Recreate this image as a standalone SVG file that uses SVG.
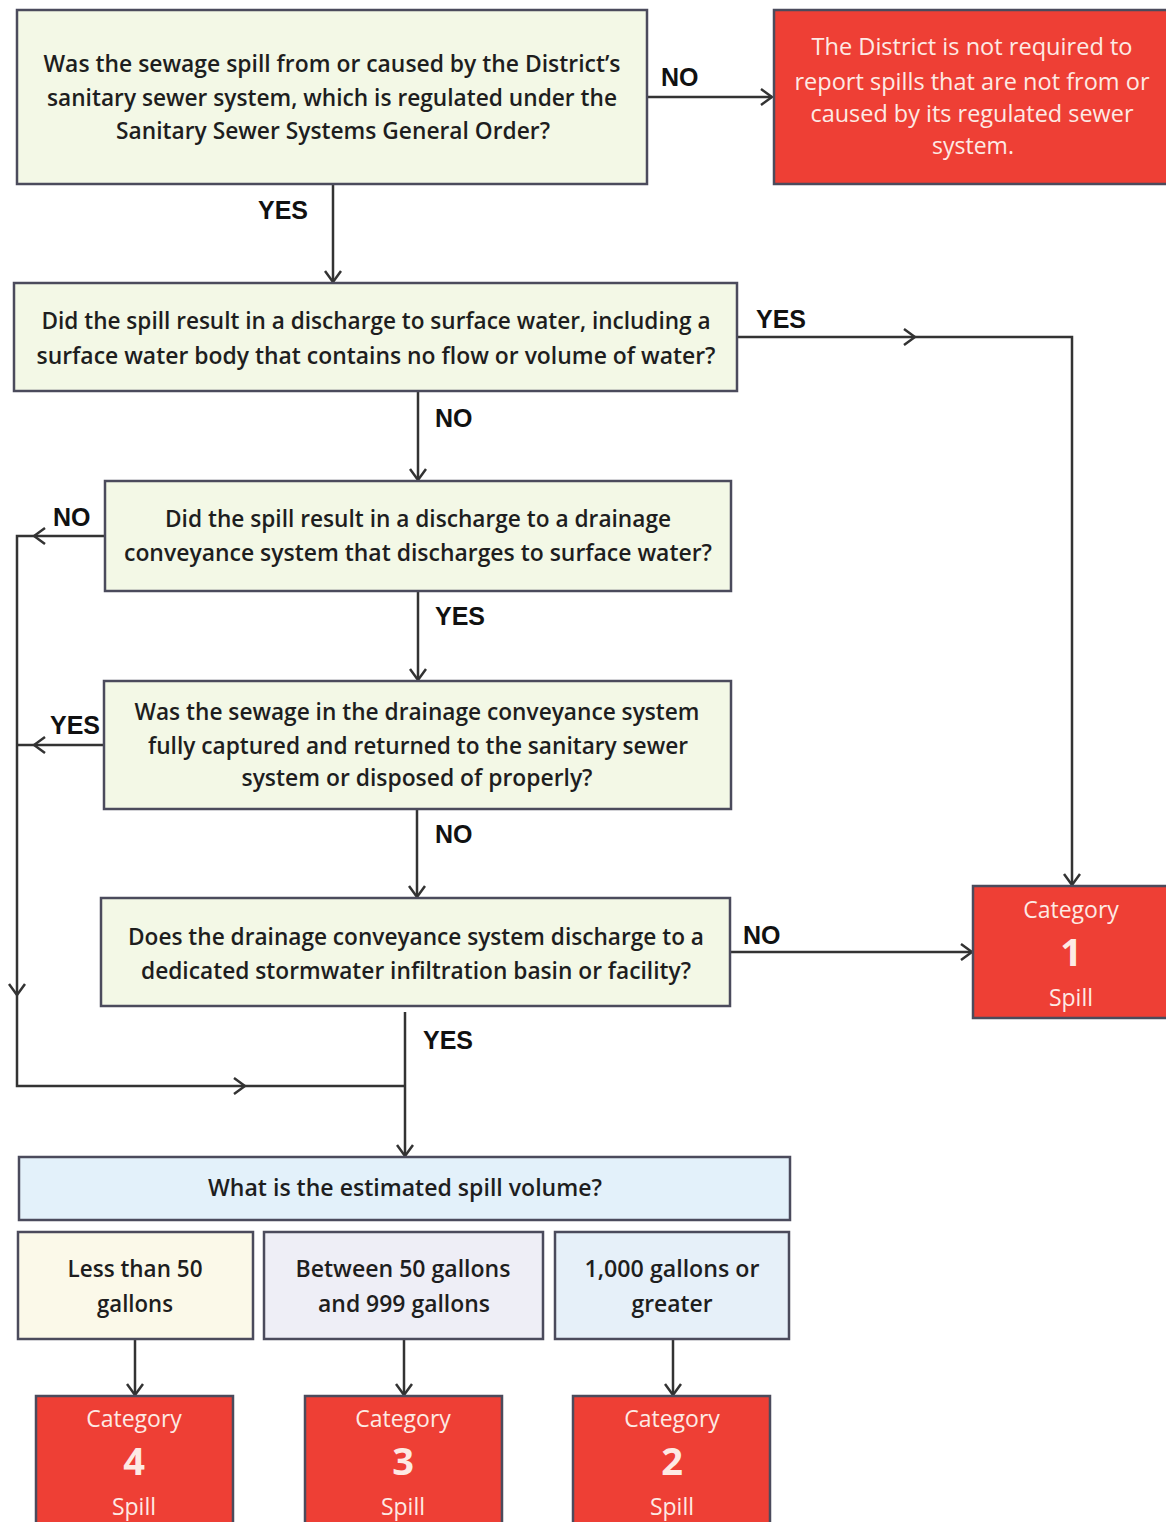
<svg xmlns="http://www.w3.org/2000/svg" width="1166" height="1522" viewBox="0 0 1166 1522">
<style>
.q{fill:#f3f8e6;stroke:#4b4b5c;stroke-width:2.5}
.r{fill:#ee3f35;stroke:#4b4b5c;stroke-width:2.5}
.t{font-family:"Open Sans","Liberation Sans",sans-serif;font-size:23px;font-weight:600;fill:#1e1e1e;text-anchor:middle}
.w{font-family:"Open Sans","Liberation Sans",sans-serif;font-size:23px;fill:#fdeae4;text-anchor:middle}
.n{font-family:"Open Sans","Liberation Sans",sans-serif;font-size:38px;font-weight:bold;fill:#fdeae4;text-anchor:middle}
.l{font-family:"Liberation Sans",Arial,sans-serif;font-size:25px;font-weight:bold;fill:#111}
.c{fill:none;stroke:#333;stroke-width:2.5}
</style>
<defs>
<marker id="a" viewBox="-1 -9 13 18" refX="11" refY="0" markerWidth="13" markerHeight="18" markerUnits="userSpaceOnUse" orient="auto">
<path d="M0,-8 L11,0 L0,8" fill="none" stroke="#333" stroke-width="2.5"/>
</marker>
</defs>
<g id="connectors">
<path class="c" d="M647,97 H772" marker-end="url(#a)"/>
<path class="c" d="M333,184 V282" marker-end="url(#a)"/>
<path class="c" d="M737,337 H915" marker-end="url(#a)"/>
<path class="c" d="M915,337 H1072 V885" marker-end="url(#a)"/>
<path class="c" d="M418,391 V480" marker-end="url(#a)"/>
<path class="c" d="M105,536 H34" marker-end="url(#a)"/>
<path class="c" d="M34,536 H17 V995" marker-end="url(#a)"/>
<path class="c" d="M17,995 V1086 H245" marker-end="url(#a)"/>
<path class="c" d="M245,1086 H405"/>
<path class="c" d="M104,745 H34" marker-end="url(#a)"/>
<path class="c" d="M34,745 H17"/>
<path class="c" d="M418,591 V680" marker-end="url(#a)"/>
<path class="c" d="M417,809 V897" marker-end="url(#a)"/>
<path class="c" d="M730,952 H972" marker-end="url(#a)"/>
<path class="c" d="M405,1012 V1156" marker-end="url(#a)"/>
<path class="c" d="M135,1339 V1395" marker-end="url(#a)"/>
<path class="c" d="M404,1339 V1395" marker-end="url(#a)"/>
<path class="c" d="M673,1339 V1395" marker-end="url(#a)"/>
<text class="l" x="661" y="86">NO</text>
<text class="l" x="258" y="219">YES</text>
<text class="l" x="756" y="328">YES</text>
<text class="l" x="435" y="427">NO</text>
<text class="l" x="53" y="526">NO</text>
<text class="l" x="435" y="625">YES</text>
<text class="l" x="50" y="734">YES</text>
<text class="l" x="435" y="843">NO</text>
<text class="l" x="743" y="944">NO</text>
<text class="l" x="423" y="1049">YES</text>
</g>
<g id="q1">
<rect class="q" x="17" y="10" width="630" height="174"/>
<text class="t" x="332" y="72" textLength="577" lengthAdjust="spacingAndGlyphs">Was the sewage spill from or caused by the District’s</text>
<text class="t" x="332" y="106" textLength="570" lengthAdjust="spacingAndGlyphs">sanitary sewer system, which is regulated under the</text>
<text class="t" x="333" y="139" textLength="434" lengthAdjust="spacingAndGlyphs">Sanitary Sewer Systems General Order?</text>
</g>
<g id="notreq">
<rect class="r" x="774" y="10" width="400" height="174"/>
<text class="w" x="972" y="55" textLength="321" lengthAdjust="spacingAndGlyphs">The District is not required to</text>
<text class="w" x="972" y="90" textLength="355" lengthAdjust="spacingAndGlyphs">report spills that are not from or</text>
<text class="w" x="972" y="122" textLength="323" lengthAdjust="spacingAndGlyphs">caused by its regulated sewer</text>
<text class="w" x="973" y="154">system.</text>
</g>
<g id="q2">
<rect class="q" x="14" y="283" width="723" height="108"/>
<text class="t" x="376" y="329" textLength="669" lengthAdjust="spacingAndGlyphs">Did the spill result in a discharge to surface water, including a</text>
<text class="t" x="376" y="364" textLength="679" lengthAdjust="spacingAndGlyphs">surface water body that contains no flow or volume of water?</text>
</g>
<g id="q3">
<rect class="q" x="105" y="481" width="626" height="110"/>
<text class="t" x="418" y="527" textLength="506" lengthAdjust="spacingAndGlyphs">Did the spill result in a discharge to a drainage</text>
<text class="t" x="418" y="561" textLength="588" lengthAdjust="spacingAndGlyphs">conveyance system that discharges to surface water?</text>
</g>
<g id="q4">
<rect class="q" x="104" y="681" width="627" height="128"/>
<text class="t" x="417" y="720" textLength="565" lengthAdjust="spacingAndGlyphs">Was the sewage in the drainage conveyance system</text>
<text class="t" x="418" y="754" textLength="540" lengthAdjust="spacingAndGlyphs">fully captured and returned to the sanitary sewer</text>
<text class="t" x="417" y="786" textLength="351" lengthAdjust="spacingAndGlyphs">system or disposed of properly?</text>
</g>
<g id="q5">
<rect class="q" x="101" y="898" width="629" height="108"/>
<text class="t" x="416" y="945" textLength="576" lengthAdjust="spacingAndGlyphs">Does the drainage conveyance system discharge to a</text>
<text class="t" x="416" y="979" textLength="550" lengthAdjust="spacingAndGlyphs">dedicated stormwater infiltration basin or facility?</text>
</g>
<g id="cat1">
<rect class="r" x="973" y="886" width="200" height="132"/>
<text class="w" x="1071" y="918">Category</text>
<text class="n" x="1071" y="966">1</text>
<text class="w" x="1071" y="1006">Spill</text>
</g>
<g id="volume">
<rect x="19" y="1157" width="771" height="63" fill="#e3f1fa" stroke="#4b4b5c" stroke-width="2.5"/>
<text class="t" x="405" y="1196" textLength="394" lengthAdjust="spacingAndGlyphs">What is the estimated spill volume?</text>
</g>
<g id="less50">
<rect x="18" y="1232" width="235" height="107" fill="#fbf9e9" stroke="#4b4b5c" stroke-width="2.5"/>
<text class="t" x="135" y="1277" textLength="135" lengthAdjust="spacingAndGlyphs">Less than 50</text>
<text class="t" x="135" y="1312" textLength="76" lengthAdjust="spacingAndGlyphs">gallons</text>
</g>
<g id="between">
<rect x="264" y="1232" width="279" height="107" fill="#eeeef6" stroke="#4b4b5c" stroke-width="2.5"/>
<text class="t" x="403" y="1277" textLength="215" lengthAdjust="spacingAndGlyphs">Between 50 gallons</text>
<text class="t" x="404" y="1312" textLength="172" lengthAdjust="spacingAndGlyphs">and 999 gallons</text>
</g>
<g id="over1000">
<rect x="555" y="1232" width="234" height="107" fill="#e6f0f9" stroke="#4b4b5c" stroke-width="2.5"/>
<text class="t" x="672" y="1277" textLength="175" lengthAdjust="spacingAndGlyphs">1,000 gallons or</text>
<text class="t" x="672" y="1312" textLength="81" lengthAdjust="spacingAndGlyphs">greater</text>
</g>
<g id="cat4">
<rect class="r" x="36" y="1396" width="197" height="140"/>
<text class="w" x="134" y="1427">Category</text>
<text class="n" x="134" y="1475">4</text>
<text class="w" x="134" y="1515">Spill</text>
</g>
<g id="cat3">
<rect class="r" x="305" y="1396" width="197" height="140"/>
<text class="w" x="403" y="1427">Category</text>
<text class="n" x="403" y="1475">3</text>
<text class="w" x="403" y="1515">Spill</text>
</g>
<g id="cat2">
<rect class="r" x="573" y="1396" width="197" height="140"/>
<text class="w" x="672" y="1427">Category</text>
<text class="n" x="672" y="1475">2</text>
<text class="w" x="672" y="1515">Spill</text>
</g>
</svg>
